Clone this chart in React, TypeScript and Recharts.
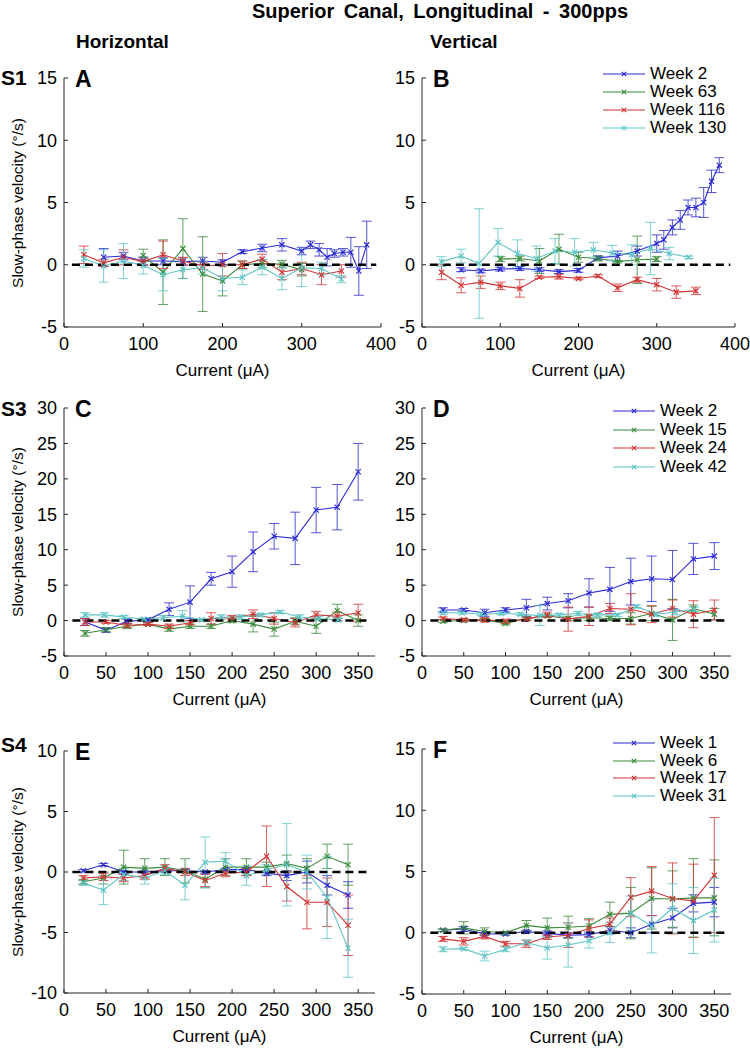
import React from 'react';
import { LineChart, Line, XAxis, YAxis, ErrorBar, ReferenceLine } from 'recharts';

const FONT = '"Liberation Sans", Arial, Helvetica, sans-serif';
const AXIS = '#262626';

const BLUE = '#2a2ad0';
const GREEN = '#3b8a3b';
const RED = '#d23434';
const CYAN = '#5ec4c4';

// ---------- S1 / panel A (horizontal) ----------
const aBlueX = [50, 75, 100, 125, 150, 175, 200, 225, 250, 275, 300, 311, 322, 332, 341, 352, 362, 372, 382];
const aBlueY = [0.6, 0.7, 0.3, 0.3, 0.25, 0.3, 0.2, 1.05, 1.35, 1.6, 1.1, 1.6, 1.2, 0.6, 0.9, 1.0, 1.0, -0.5, 1.6];
const aBlueE = [0.7, 0.3, 0.3, 0.3, 0.3, 0.3, 0.2, 0.15, 0.3, 0.5, 0.3, 0.3, 0.5, 0.7, 0.3, 0.3, 1.2, 1.95, 1.9];
const aGreenX = [100, 125, 150, 175, 200, 225, 250, 275, 300];
const aGreenY = [0.75, -0.6, 1.3, -0.75, -1.3, 0.0, 0.1, 0.05, -0.4];
const aGreenE = [0.5, 2.6, 2.4, 3.0, 1.2, 0.3, 0.3, 0.3, 0.5];
const aRedX = [25, 50, 75, 100, 125, 150, 175, 200, 225, 250, 275, 300, 325, 350];
const aRedY = [0.8, 0.15, 0.6, 0.25, 0.8, 0.3, -0.1, 0.0, 0.0, 0.45, -0.6, -0.3, -0.8, -0.5];
const aRedE = [0.7, 0.3, 0.6, 0.3, 1.1, 0.3, 0.3, 0.9, 0.3, 0.4, 0.6, 0.5, 0.8, 0.5];
const aCyanX = [25, 50, 75, 100, 125, 150, 175, 200, 225, 250, 275, 300, 325, 350];
const aCyanY = [0.5, -0.1, 0.3, -0.05, -0.8, -0.4, -0.25, -1.1, -1.0, -0.2, -1.1, -0.25, -0.3, -1.15];
const aCyanE = [0.7, 1.3, 1.4, 0.7, 1.3, 0.7, 0.5, 1.0, 0.6, 0.6, 0.9, 1.5, 0.5, 0.3];

// ---------- S1 / panel B (vertical) ----------
const bBlueX = [50, 75, 100, 125, 150, 175, 200, 225, 250, 275, 300, 309, 320, 330, 340, 350, 360, 370, 380];
const bBlueY = [-0.4, -0.5, -0.35, -0.3, -0.4, -0.55, -0.45, 0.55, 0.7, 1.1, 1.7, 2.0, 3.0, 3.6, 4.6, 4.6, 5.0, 6.7, 8.0];
const bBlueE = [0.15, 0.15, 0.15, 0.15, 0.15, 0.15, 0.15, 0.15, 0.4, 0.4, 0.7, 0.75, 0.6, 0.75, 0.6, 0.75, 1.2, 0.9, 0.6];
const bGreenX = [100, 125, 150, 175, 200, 225, 250, 275, 300];
const bGreenY = [0.45, 0.5, 0.3, 1.25, 0.6, 0.5, 0.25, 0.4, 0.45];
const bGreenE = [0.2, 0.2, 1.0, 1.2, 0.4, 0.2, 0.1, 1.9, 0.2];
const bRedX = [25, 50, 75, 100, 125, 150, 175, 200, 225, 250, 275, 300, 325, 350];
const bRedY = [-0.6, -1.65, -1.4, -1.7, -1.9, -1.0, -0.95, -1.1, -0.9, -1.85, -1.2, -1.6, -2.2, -2.1];
const bRedE = [0.6, 0.6, 0.5, 0.3, 0.7, 0.1, 0.2, 0.1, 0.1, 0.3, 0.2, 0.5, 0.5, 0.3];
const bCyanX = [25, 50, 73, 97, 122, 146, 170, 195, 219, 243, 268, 292, 316, 341];
const bCyanY = [0.25, 0.7, 0.1, 1.8, 0.9, 0.5, 1.1, 1.0, 1.2, 0.95, 0.8, 1.3, 0.9, 0.6];
const bCyanE = [0.4, 0.55, 4.4, 1.1, 1.1, 1.0, 1.0, 1.1, 0.6, 0.6, 0.8, 2.1, 0.5, 0.1];

// ---------- S3 / panel C (horizontal) ----------
const cX = [25, 50, 75, 100, 125, 150, 175, 200, 225, 250, 275, 300, 325, 350];
const cBlueY = [-0.2, -1.35, -0.1, 0.1, 1.6, 2.6, 5.9, 6.9, 9.7, 11.9, 11.6, 15.6, 16.0, 21.0];
const cBlueE = [0.5, 0.3, 0.3, 0.2, 0.9, 2.3, 0.9, 2.2, 2.8, 1.8, 3.7, 3.2, 3.2, 4.0];
const cGreenY = [-1.8, -1.3, -0.8, -0.5, -1.2, -0.8, -0.8, 0.0, -0.5, -1.2, -0.1, -0.8, 1.4, 0.0];
const cGreenE = [0.4, 0.3, 0.3, 0.2, 0.3, 0.3, 0.3, 0.3, 1.1, 1.0, 0.5, 1.0, 0.9, 0.8];
const cRedY = [-0.2, -0.2, -0.7, -0.5, -0.8, -0.3, 0.3, 0.4, 0.9, 0.3, -0.3, 0.8, 0.6, 1.1];
const cRedE = [0.5, 0.2, 0.3, 0.2, 0.3, 0.3, 0.8, 0.3, 0.6, 0.8, 0.6, 0.5, 0.6, 1.2];
const cCyanX = [25, 48, 71, 95, 118, 141, 164, 187, 210, 234, 257, 280, 303, 326];
const cCyanY = [0.8, 0.8, 0.5, 0.2, 0.4, 0.6, 0.1, 0.5, 0.5, 0.8, 1.2, 0.5, 0.3, 0.1];
const cCyanE = [0.3, 0.3, 0.2, 0.2, 0.3, 0.8, 0.2, 0.3, 0.3, 0.2, 0.2, 0.3, 0.3, 0.2];

// ---------- S3 / panel D (vertical) ----------
const dX = [25, 50, 75, 100, 125, 150, 175, 200, 225, 250, 275, 300, 325, 350];
const dBlueY = [1.5, 1.5, 1.1, 1.5, 1.8, 2.4, 2.8, 3.9, 4.4, 5.5, 5.9, 5.8, 8.7, 9.1];
const dBlueE = [0.3, 0.2, 0.5, 0.3, 1.2, 0.9, 1.0, 2.0, 3.1, 3.3, 3.2, 4.1, 2.2, 1.9];
const dGreenY = [-0.1, 0.0, 0.1, -0.4, 0.3, 0.7, 0.3, 0.4, 0.3, 0.3, 1.0, 0.1, 1.7, 0.9];
const dGreenE = [0.2, 0.2, 0.2, 0.2, 0.2, 0.2, 0.3, 0.4, 0.3, 0.8, 1.0, 2.9, 0.5, 0.8];
const dRedY = [0.3, 0.1, 0.1, -0.1, 0.2, 0.8, 0.2, 0.6, 1.7, 1.6, 0.9, 1.7, 0.9, 1.5];
const dRedE = [0.2, 0.2, 0.3, 0.3, 0.2, 0.4, 1.7, 1.3, 0.7, 2.2, 1.2, 1.2, 1.9, 1.4];
const dCyanX = [25, 48, 71, 95, 118, 141, 164, 187, 210, 234, 257, 280, 303, 326];
const dCyanY = [1.1, 1.1, 0.9, 1.0, 0.9, 0.7, 0.8, 1.0, 0.8, 0.8, 2.0, 0.9, 1.2, 1.6];
const dCyanE = [0.2, 0.2, 0.2, 0.2, 0.2, 1.4, 0.2, 0.3, 0.2, 0.2, 0.2, 0.3, 0.4, 0.3];

// ---------- S4 / panel E (horizontal) ----------
const eX = [23, 47, 71, 96, 120, 144, 168, 192, 217, 241, 265, 289, 313, 338];
const eBlueY = [0.1, 0.6, 0.0, 0.0, 0.1, 0.1, 0.0, 0.2, 0.2, -0.1, -0.3, 0.0, -1.1, -1.9];
const eBlueE = [0.1, 0.1, 0.1, 0.1, 0.1, 0.1, 0.1, 0.1, 0.1, 0.2, 0.4, 0.9, 0.8, 1.1];
const eGreenY = [-0.8, -0.5, 0.4, 0.3, 0.4, 0.1, -0.6, 0.4, 0.4, 0.4, 0.7, 0.3, 1.3, 0.6];
const eGreenE = [0.2, 0.5, 1.4, 0.8, 0.7, 1.0, 0.7, 0.7, 0.7, 0.4, 0.7, 0.8, 1.0, 1.7];
const eRedY = [-0.5, -0.4, -0.5, -0.3, 0.3, 0.0, -0.7, -0.1, 0.0, 1.3, -1.2, -2.5, -2.5, -4.4];
const eRedE = [0.2, 0.3, 0.3, 0.3, 0.3, 0.3, 0.5, 0.3, 0.3, 2.5, 1.2, 2.2, 2.0, 2.5];
const eCyanY = [-0.9, -1.5, -0.2, -0.5, 0.1, -1.1, 0.8, 0.9, -0.3, 0.2, 0.6, 0.0, -2.1, -6.3];
const eCyanE = [0.2, 1.2, 0.5, 0.5, 0.3, 1.2, 2.1, 0.7, 0.8, 0.4, 3.4, 1.4, 3.4, 2.4];

// ---------- S4 / panel F (vertical) ----------
const fX = [25, 50, 75, 100, 125, 150, 175, 200, 225, 250, 275, 300, 325, 350];
const fBlueY = [0.2, 0.3, -0.1, -0.1, 0.1, -0.05, -0.2, -0.15, 0.2, 0.0, 0.7, 1.2, 2.4, 2.5];
const fBlueE = [0.1, 0.2, 0.1, 0.1, 0.1, 0.2, 0.2, 0.2, 0.3, 0.4, 0.7, 0.8, 0.7, 1.2];
const fGreenY = [0.2, 0.4, 0.1, 0.0, 0.6, 0.4, 0.45, 0.55, 1.5, 1.6, 2.8, 2.75, 2.85, 2.85];
const fGreenE = [0.1, 0.5, 0.3, 0.1, 0.4, 0.8, 0.9, 0.6, 1.0, 2.1, 2.5, 2.3, 3.2, 3.1];
const fRedY = [-0.5, -0.7, -0.3, -0.9, -0.9, -0.35, -0.2, 0.35, 0.7, 2.9, 3.4, 2.8, 2.6, 4.7];
const fRedE = [0.2, 0.3, 0.2, 0.2, 0.3, 0.2, 1.0, 0.7, 0.5, 1.6, 2.0, 2.9, 3.0, 4.7];
const fCyanY = [-1.35, -1.3, -1.9, -1.35, -0.8, -1.25, -1.0, -0.65, 0.0, 1.6, 0.55, 2.0, 1.0, 1.85];
const fCyanE = [0.2, 0.1, 0.4, 0.2, 0.2, 0.9, 1.8, 0.6, 0.8, 1.4, 2.2, 2.0, 2.7, 2.6];

const pts = (xs: number[], ys: number[], es: number[]) =>
  xs.map((x, i) => ({ x, y: ys[i], e: es[i] }));

type Series = { name: string; color: string; data: { x: number; y: number; e: number }[] };

const s1Names = ['Week 2', 'Week 63', 'Week 116', 'Week 130'];
const s3Names = ['Week 2', 'Week 15', 'Week 24', 'Week 42'];
const s4Names = ['Week 1', 'Week 6', 'Week 17', 'Week 31'];
const COLORS = [BLUE, GREEN, RED, CYAN];

const mkSeries = (names: string[], datas: { x: number; y: number; e: number }[][]): Series[] =>
  names.map((name, i) => ({ name, color: COLORS[i], data: datas[i] }));

const seriesA = mkSeries(s1Names, [pts(aBlueX, aBlueY, aBlueE), pts(aGreenX, aGreenY, aGreenE), pts(aRedX, aRedY, aRedE), pts(aCyanX, aCyanY, aCyanE)]);
const seriesB = mkSeries(s1Names, [pts(bBlueX, bBlueY, bBlueE), pts(bGreenX, bGreenY, bGreenE), pts(bRedX, bRedY, bRedE), pts(bCyanX, bCyanY, bCyanE)]);
const seriesC = mkSeries(s3Names, [pts(cX, cBlueY, cBlueE), pts(cX, cGreenY, cGreenE), pts(cX, cRedY, cRedE), pts(cCyanX, cCyanY, cCyanE)]);
const seriesD = mkSeries(s3Names, [pts(dX, dBlueY, dBlueE), pts(dX, dGreenY, dGreenE), pts(dX, dRedY, dRedE), pts(dCyanX, dCyanY, dCyanE)]);
const seriesE = mkSeries(s4Names, [pts(eX, eBlueY, eBlueE), pts(eX, eGreenY, eGreenE), pts(eX, eRedY, eRedE), pts(eX, eCyanY, eCyanE)]);
const seriesF = mkSeries(s4Names, [pts(fX, fBlueY, fBlueE), pts(fX, fGreenY, fGreenE), pts(fX, fRedY, fRedE), pts(fX, fCyanY, fCyanE)]);

const ticks400 = [0, 100, 200, 300, 400];
const ticks350 = [0, 50, 100, 150, 200, 250, 300, 350];
const yTicks15 = [-5, 0, 5, 10, 15];
const yTicks30 = [-5, 0, 5, 10, 15, 20, 25, 30];
const yTicks10 = [-10, -5, 0, 5, 10];

const XMark = ({ cx, cy, color, s = 2.6 }: any) => {
  if (cx == null || cy == null) return null;
  return (
    <path
      d={`M${cx - s},${cy - s}L${cx + s},${cy + s}M${cx - s},${cy + s}L${cx + s},${cy - s}`}
      stroke={color}
      strokeWidth={1.2}
      fill="none"
    />
  );
};

const Y_MARGIN = 7;
const X_MARGIN = 10;

const YTick = ({ x, y, payload }: any) => (
  <g>
    <line x1={x + Y_MARGIN} x2={x + Y_MARGIN + 4} y1={y} y2={y} stroke={AXIS} />
    <text x={x} y={y} dy="0.36em" textAnchor="end" fontSize={18} fill="#000" fontFamily={FONT}>
      {payload.value}
    </text>
  </g>
);

const XTick = ({ x, y, payload }: any) => (
  <g>
    <line x1={x} x2={x} y1={y - X_MARGIN} y2={y - X_MARGIN - 4} stroke={AXIS} />
    <text x={x} y={y} dy="0.71em" textAnchor="middle" fontSize={18} fill="#000" fontFamily={FONT}>
      {payload.value}
    </text>
  </g>
);

const YW = 50;
const PAD_T = 10;
const PAD_R = 15;
const XH = 40;

type PanelProps = {
  left: number;
  top: number;
  w: number;
  h: number;
  xMax: number;
  xTicks: number[];
  yDomain: [number, number];
  yTicks: number[];
  series: Series[];
  letter: string;
  yLabel?: boolean;
  legendTop?: number;
  legendGap?: number;
  legendLeft?: number;
};

const Panel = ({ left, top, w, h, xMax, xTicks, yDomain, yTicks, series, letter, yLabel, legendTop, legendGap = 18, legendLeft = 613 }: PanelProps) => (
  <>
    <div style={{ position: 'absolute', left: left - YW, top: top - PAD_T }}>
      <LineChart width={w + YW + PAD_R} height={h + PAD_T + XH} margin={{ top: PAD_T, right: PAD_R, left: 0, bottom: 0 }}>
        <XAxis
          type="number"
          dataKey="x"
          domain={[0, xMax]}
          ticks={xTicks}
          allowDataOverflow
          height={XH}
          tickLine={false}
          tickSize={0}
          tickMargin={X_MARGIN}
          tick={<XTick />}
          axisLine={{ stroke: AXIS }}
        />
        <YAxis
          type="number"
          domain={yDomain}
          ticks={yTicks}
          allowDataOverflow
          width={YW}
          tickLine={false}
          tickSize={0}
          tickMargin={Y_MARGIN}
          tick={<YTick />}
          axisLine={{ stroke: AXIS }}
        />
        {series.map((s) => (
          <Line
            key={s.name}
            data={s.data}
            dataKey="y"
            name={s.name}
            stroke={s.color}
            strokeWidth={1.1}
            isAnimationActive={false}
            dot={(p: any) => <XMark key={`${s.name}-${p.index}`} cx={p.cx} cy={p.cy} color={s.color} />}
            activeDot={false}
          >
            <ErrorBar dataKey="e" width={5} stroke={s.color} strokeWidth={1} strokeOpacity={0.8} direction="y" isAnimationActive={false} />
          </Line>
        ))}
        <ReferenceLine
          segment={[{ x: 10, y: 0 }, { x: xMax * 0.985, y: 0 }]}
          stroke="#000"
          strokeWidth={2.4}
          strokeDasharray="8 5"
        />
      </LineChart>
    </div>
    <div style={{ position: 'absolute', left: left + 11, top: top - 12, fontFamily: FONT, fontWeight: 'bold', fontSize: 23 }}>
      {letter}
    </div>
    <div
      style={{
        position: 'absolute',
        left: left,
        width: w,
        top: top + h + 34,
        textAlign: 'center',
        fontFamily: FONT,
        fontSize: 17,
        lineHeight: '20px',
      }}
    >
      Current (μA)
    </div>
    {yLabel && (
      <div
        style={{
          position: 'absolute',
          left: 18,
          top: top + h / 2,
          transform: 'translate(-50%, -50%) rotate(-90deg)',
          whiteSpace: 'nowrap',
          fontFamily: FONT,
          fontSize: 15.5,
        }}
      >
        Slow-phase velocity (°/s)
      </div>
    )}
    {legendTop != null &&
      series.map((s, i) => (
        <div
          key={`lg-${s.name}`}
          style={{
            position: 'absolute',
            left: legendLeft,
            top: legendTop + i * legendGap - 8,
            height: 16,
            display: 'flex',
            alignItems: 'center',
            fontFamily: FONT,
            fontSize: 17,
            lineHeight: '16px',
            whiteSpace: 'nowrap',
          }}
        >
          <svg width={44} height={16} style={{ marginRight: 3 }}>
            <line x1={0} x2={42} y1={8} y2={8} stroke={s.color} strokeWidth={1.1} />
            <XMark cx={21} cy={8} color={s.color} s={2.2} />
          </svg>
          <span style={{ lineHeight: '16px', height: 16, display: 'inline-block' }}>{s.name}</span>
        </div>
      ))}
  </>
);

const bold = { fontFamily: FONT, fontWeight: 'bold' as const, position: 'absolute' as const, whiteSpace: 'pre' as const };

export default function App() {
  return (
    <div style={{ position: 'absolute', left: 0, top: 0, width: 750, height: 1050, background: '#fff', overflow: 'hidden' }}>
      <div style={{ ...bold, left: 0, width: 880, top: 0, textAlign: 'center', fontSize: 20, wordSpacing: 4 }}>
        Superior Canal, Longitudinal - 300pps
      </div>
      <div style={{ ...bold, left: 76, top: 31, fontSize: 19 }}>Horizontal</div>
      <div style={{ ...bold, left: 430, top: 31, fontSize: 19 }}>Vertical</div>
      <div style={{ ...bold, left: 1, top: 66, fontSize: 21 }}>S1</div>
      <div style={{ ...bold, left: 1, top: 397, fontSize: 21 }}>S3</div>
      <div style={{ ...bold, left: 1, top: 733, fontSize: 21 }}>S4</div>

      <Panel left={64} top={78} w={317} h={249} xMax={400} xTicks={ticks400} yDomain={[-5, 15]} yTicks={yTicks15} series={seriesA} letter="A" yLabel />
      <Panel left={422} top={78} w={313} h={249} xMax={400} xTicks={ticks400} yDomain={[-5, 15]} yTicks={yTicks15} series={seriesB} letter="B" legendTop={74} legendLeft={603} />

      <Panel left={64} top={408} w={311} h={248} xMax={370} xTicks={ticks350} yDomain={[-5, 30]} yTicks={yTicks30} series={seriesC} letter="C" yLabel />
      <Panel left={422} top={408} w={309} h={248} xMax={370} xTicks={ticks350} yDomain={[-5, 30]} yTicks={yTicks30} series={seriesD} letter="D" legendTop={411} legendGap={18.5} />

      <Panel left={64} top={751} w={311} h={242} xMax={370} xTicks={ticks350} yDomain={[-10, 10]} yTicks={yTicks10} series={seriesE} letter="E" yLabel />
      <Panel left={422} top={749} w={309} h={245} xMax={370} xTicks={ticks350} yDomain={[-5, 15]} yTicks={yTicks15} series={seriesF} letter="F" legendTop={743} legendGap={17.5} />
    </div>
  );
}
